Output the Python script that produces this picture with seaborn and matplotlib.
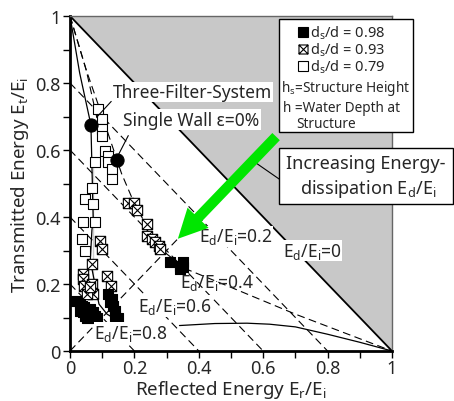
import numpy as np
import pandas as pd
import matplotlib
matplotlib.use('Agg')
import matplotlib.pyplot as plt
import seaborn as sns
from matplotlib.path import Path
from matplotlib.patches import Polygon, Rectangle
from matplotlib.lines import Line2D
from matplotlib.ticker import MultipleLocator, FuncFormatter

# ---------------- data ----------------
filled_x = [0.020, 0.030, 0.031, 0.041, 0.047, 0.052, 0.057, 0.062, 0.055, 0.067, 0.072, 0.078, 0.083, 0.045, 0.036,
            0.119, 0.130, 0.124, 0.135, 0.140, 0.140, 0.148,
            0.311, 0.342, 0.352, 0.342, 0.350]
filled_y = [0.150, 0.140, 0.120, 0.115, 0.105, 0.100, 0.110, 0.125, 0.120, 0.104, 0.115, 0.104, 0.100, 0.130, 0.135,
            0.170, 0.155, 0.146, 0.135, 0.120, 0.105, 0.100,
            0.265, 0.255, 0.265, 0.245, 0.250]

crossed_x = [0.039, 0.041, 0.044, 0.067, 0.072, 0.052, 0.067, 0.093, 0.098, 0.114, 0.126, 0.062,
             0.181, 0.199, 0.209, 0.240, 0.240, 0.254, 0.264, 0.275, 0.280]
crossed_y = [0.230, 0.215, 0.195, 0.200, 0.170, 0.170, 0.260, 0.329, 0.304, 0.225, 0.195, 0.190,
             0.442, 0.442, 0.422, 0.379, 0.344, 0.334, 0.324, 0.314, 0.304]

open_x = [0.088, 0.098, 0.098, 0.098, 0.109, 0.119, 0.119, 0.130, 0.130, 0.078, 0.067, 0.047, 0.072,
          0.041, 0.078, 0.036, 0.047]
open_y = [0.722, 0.693, 0.663, 0.643, 0.598, 0.583, 0.563, 0.543, 0.513, 0.563, 0.488, 0.454, 0.439,
          0.384, 0.384, 0.334, 0.300]

dots_x = [0.065, 0.145]          # Three-Filter-System, Single Wall
dots_y = [0.675, 0.570]

ed_levels = [0.2, 0.4, 0.6, 0.8]  # constant dissipation lines  x + y = 1 - Ed

curve_open_x = [0.0, 0.03, 0.065, 0.072, 0.072, 0.068, 0.063, 0.072, 0.090, 0.115, 0.150]
curve_open_y = [1.0, 0.83, 0.675, 0.55, 0.45, 0.36, 0.27, 0.19, 0.14, 0.11, 0.09]

curve_cross_x = [0.0, 0.05, 0.104, 0.16, 0.20, 0.24, 0.30, 0.36, 0.50, 0.70, 1.0]
curve_cross_y = [1.0, 0.84, 0.69, 0.53, 0.44, 0.37, 0.29, 0.245, 0.19, 0.11, 0.0]

curve_b_x = [0.0, 0.05, 0.078, 0.098, 0.124]
curve_b_y = [1.0, 0.84, 0.72, 0.633, 0.513]

curve_low_x = [0.34, 0.45, 0.55, 0.62, 0.70, 0.80, 0.90, 1.0]
curve_low_y = [0.076, 0.082, 0.083, 0.080, 0.072, 0.050, 0.026, 0.0]

diag_x = [0.0, 0.335]
diag_y = [0.0, 0.335]

ticks = [0, 0.2, 0.4, 0.6, 0.8, 1.0]

# ---------------- style ----------------
sns.set_style('ticks')
plt.rcParams['font.family'] = ['Noto Sans', 'DejaVu Sans']
plt.rcParams['mathtext.fontset'] = 'custom'
plt.rcParams['mathtext.rm'] = 'Noto Sans'

fig = plt.figure(figsize=(4.54, 4.02), dpi=100)
ax = fig.add_axes([70/454, 50/402, 322/454, 335/402])
ax.set_xlim(0, 1)
ax.set_ylim(0, 1)

# impossible region
ax.add_patch(Polygon([(0, 1), (1, 1), (1, 0)], closed=True, facecolor='#c8c8c8', edgecolor='none', zorder=0))
ax.plot([0, 1], [1, 0], color='black', lw=1.3, zorder=2)

dash = (0, (7, 4))
for ed in ed_levels:
    ax.plot([0, 1 - ed], [1 - ed, 0], color='black', lw=0.8, ls=dash, zorder=1)
ax.plot(diag_x, diag_y, color='black', lw=0.8, ls=dash, zorder=1)
ax.plot(curve_cross_x, curve_cross_y, color='black', lw=0.8, ls=dash, zorder=1)
ax.plot(curve_b_x, curve_b_y, color='black', lw=0.8, ls=dash, zorder=1)
sns.lineplot(x=curve_open_x, y=curve_open_y, sort=False, color='black', lw=0.9, ax=ax, zorder=1)
sns.lineplot(x=curve_low_x, y=curve_low_y, sort=False, color='black', lw=0.9, ax=ax, zorder=1)

# crossed square marker
cross_sq = Path([(-1, -1), (1, -1), (1, 1), (-1, 1), (-1, -1), (-1, -1), (1, 1), (-1, 1), (1, -1)],
                [Path.MOVETO, Path.LINETO, Path.LINETO, Path.LINETO, Path.CLOSEPOLY,
                 Path.MOVETO, Path.LINETO, Path.MOVETO, Path.LINETO])

sns.scatterplot(x=open_x, y=open_y, marker='s', s=55, facecolor='white', edgecolor='black', linewidth=0.8, ax=ax, zorder=4)
sns.scatterplot(x=crossed_x, y=crossed_y, marker=cross_sq, s=55, facecolor='white', edgecolor='black', linewidth=0.8, ax=ax, zorder=4)
sns.scatterplot(x=filled_x, y=filled_y, marker='s', s=55, facecolor='black', edgecolor='black', linewidth=0.8, ax=ax, zorder=4)
sns.scatterplot(x=dots_x, y=dots_y, marker='o', s=90, facecolor='black', edgecolor='black', ax=ax, zorder=5)

# labels on lines
lab_kw = dict(fontsize=12.5, ha='center', va='center', zorder=6,
              bbox=dict(facecolor='white', edgecolor='none', pad=0.5))
ax.text(0.515, 0.342, r'E$_\mathregular{d}$/E$_\mathregular{i}$=0.2', **lab_kw)
ax.text(0.752, 0.300, r'E$_\mathregular{d}$/E$_\mathregular{i}$=0', **lab_kw)
ax.text(0.455, 0.205, r'E$_\mathregular{d}$/E$_\mathregular{i}$=0.4', fontsize=12.5, ha='center', va='center', zorder=6)
ax.text(0.325, 0.134, r'E$_\mathregular{d}$/E$_\mathregular{i}$=0.6', **lab_kw)
ax.text(0.19, 0.054, r'E$_\mathregular{d}$/E$_\mathregular{i}$=0.8', **lab_kw)

# callouts
ax.text(0.133, 0.773, 'Three-Filter-System', fontsize=12.5, ha='left', va='center', zorder=6,
        bbox=dict(facecolor='white', edgecolor='none', pad=1))
ax.plot([0.128, 0.085], [0.745, 0.700], color='black', lw=0.8, zorder=6)
ax.text(0.165, 0.690, 'Single Wall ε=0%', fontsize=12.5, ha='left', va='center', zorder=6,
        bbox=dict(facecolor='white', edgecolor='none', pad=1))
ax.plot([0.181, 0.150], [0.643, 0.585], color='black', lw=0.8, zorder=6)

# green arrow
ax.annotate('', xy=(0.335, 0.335), xytext=(0.64, 0.64), zorder=7,
            arrowprops=dict(facecolor='#00e600', edgecolor='none', width=7.5, headwidth=21, headlength=21))

# annotation box
ax.plot([0.575, 0.65], [0.563, 0.513], color='black', lw=0.8, zorder=6, clip_on=False)
fig.add_artist(Rectangle((279/454, (402-205)/402), 174/454, 56/402, transform=fig.transFigure,
                         facecolor='white', edgecolor='black', lw=1, zorder=8))
fig.text(366/454, (402-164)/402, 'Increasing Energy-', fontsize=13, ha='center', va='center', zorder=9)
fig.text(368/454, (402-189)/402, r'dissipation E$_\mathregular{d}$/E$_\mathregular{i}$', fontsize=13,
         ha='center', va='center', zorder=9)

# legend box
fig.add_artist(Rectangle((279/454, (402-133)/402), 134/454, 113/402, transform=fig.transFigure,
                         facecolor='white', edgecolor='black', lw=1, zorder=8))
leg_rows = [(33, 'black', 's'), (50, 'white', cross_sq), (67, 'white', 's')]
leg_labels = [r'd$_\mathregular{s}$/d = 0.98', r'd$_\mathregular{s}$/d = 0.93', r'd$_\mathregular{s}$/d = 0.79']
for (py, fc, mk), lab in zip(leg_rows, leg_labels):
    fig.add_artist(Line2D([303/454], [(402-py)/402], transform=fig.transFigure, marker=mk, markersize=6.5,
                          markerfacecolor=fc, markeredgecolor='black', markeredgewidth=0.8, ls='none', zorder=9))
    fig.text(310/454, (402-py)/402, lab, fontsize=10.5, ha='left', va='center', zorder=9)
fig.text(281/454, (402-88)/402, r'h$_\mathregular{s}$=Structure Height', fontsize=9.8, ha='left', va='center', zorder=9)
fig.text(283/454, (402-108)/402, 'h =Water Depth at', fontsize=9.8, ha='left', va='center', zorder=9)
fig.text(296/454, (402-125)/402, 'Structure', fontsize=9.8, ha='left', va='center', zorder=9)

# axes styling
ax.set_xticks(ticks)
ax.set_yticks(ticks)
ax.xaxis.set_minor_locator(MultipleLocator(0.1))
ax.yaxis.set_minor_locator(MultipleLocator(0.1))
fmt = FuncFormatter(lambda v, p: '%g' % v)
ax.xaxis.set_major_formatter(fmt)
ax.yaxis.set_major_formatter(fmt)
ax.tick_params(which='both', direction='out', length=5, width=1, color='black', labelsize=13)
ax.tick_params(axis='x', pad=1)
ax.tick_params(axis='y', pad=2)
for s in ['left', 'bottom']:
    ax.spines[s].set_linewidth(2)
    ax.spines[s].set_color('black')
for s in ['top', 'right']:
    ax.spines[s].set_linewidth(1)
    ax.spines[s].set_color('#666666')
    ax.spines[s].set_visible(True)
ax.set_xlabel(r'Reflected Energy E$_\mathregular{r}$/E$_\mathregular{i}$', fontsize=13.5)
ax.xaxis.label.set_va('bottom')
ax.xaxis.set_label_coords(0.5, -0.146)
ax.set_ylabel(r'Transmitted Energy E$_\mathregular{t}$/E$_\mathregular{i}$', fontsize=13.5, labelpad=3)

fig.savefig('out.png', dpi=100)
